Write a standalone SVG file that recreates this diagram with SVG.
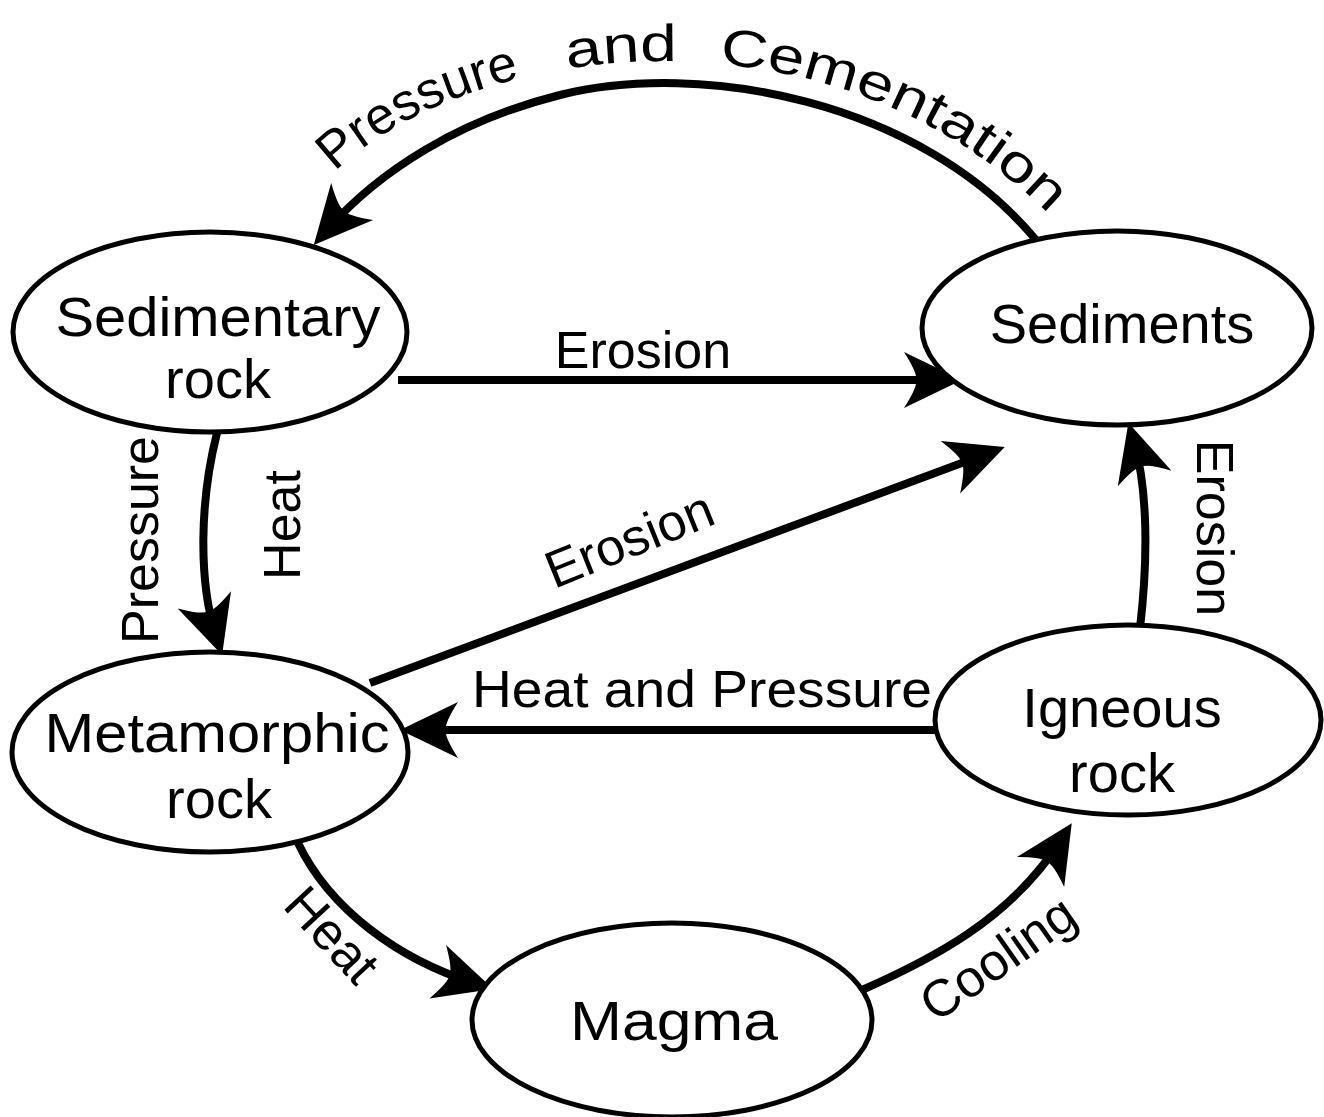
<svg xmlns="http://www.w3.org/2000/svg" width="1324" height="1117" viewBox="0 0 1324 1117">
<style>
.node ellipse{fill:#fff;stroke:#000;stroke-width:5}
.nt{font-family:"Liberation Sans",Arial,sans-serif;font-size:56px;fill:#000;text-anchor:middle}
.lb{font-family:"Liberation Sans",Arial,sans-serif;font-size:52px;fill:#000;text-anchor:middle}
.edge{fill:none;stroke:#000;stroke-width:8}
</style>
<defs>
<marker id="ah" markerUnits="userSpaceOnUse" markerWidth="120" markerHeight="120" refX="0" refY="0" orient="auto" overflow="visible">
<path d="M20,0 L-38,-28 Q-24,-6 -26,0 Q-24,6 -38,28 Z" fill="#000"/>
</marker>
<path id="arcText" d="M335,172 C470,40 840,-10 1062,228"/>
</defs>
<rect width="1324" height="1117" fill="#fff"/>
<g id="connectors">
<path class="edge" d="M1036,240 C920,100 700,60 560,95 C460,120 380,170 327,230" marker-end="url(#ah)"/>
<path class="edge" d="M398,380 L942,380" marker-end="url(#ah)"/>
<path class="edge" d="M217,433 C200,500 198,580 216,636" marker-end="url(#ah)"/>
<path class="edge" d="M370,683 L986,454" marker-end="url(#ah)"/>
<path class="edge" d="M965,730 L420,730" marker-end="url(#ah)"/>
<path class="edge" d="M1140,628 C1148,560 1148,490 1134,442" marker-end="url(#ah)"/>
<path class="edge" d="M298,843 C330,910 400,960 474,983" marker-end="url(#ah)"/>
<path class="edge" d="M862,990 C930,960 1010,920 1061,840" marker-end="url(#ah)"/>
</g>
<g id="edge-labels">
<text class="lb" style="text-anchor:start"><textPath href="#arcText" startOffset="0" textLength="210" lengthAdjust="spacingAndGlyphs">Pressure</textPath></text>
<text class="lb" style="text-anchor:start"><textPath href="#arcText" startOffset="258" textLength="110" lengthAdjust="spacingAndGlyphs">and</textPath></text>
<text class="lb" style="text-anchor:start"><textPath href="#arcText" startOffset="410" textLength="370" lengthAdjust="spacingAndGlyphs">Cementation</textPath></text>
<text class="lb" x="643" y="368">Erosion</text>
<text class="lb" x="702" y="707" textLength="460" lengthAdjust="spacingAndGlyphs">Heat and Pressure</text>
<text class="lb" transform="translate(636,556) rotate(-22)">Erosion</text>
<text class="lb" transform="translate(158,540) rotate(-90)">Pressure</text>
<text class="lb" transform="translate(300,525) rotate(-90)">Heat</text>
<text class="lb" transform="translate(1197,528) rotate(90)">Erosion</text>
<text class="lb" transform="translate(319,947) rotate(47)">Heat</text>
<text class="lb" transform="translate(1008,973) rotate(-35)">Cooling</text>
</g>
<g id="sedimentary-rock" class="node">
<ellipse cx="210" cy="332" rx="197" ry="100"/>
<text class="nt" x="218" y="336" textLength="325" lengthAdjust="spacingAndGlyphs">Sedimentary</text>
<text class="nt" x="218" y="398">rock</text>
</g>
<g id="sediments" class="node">
<ellipse cx="1117" cy="328" rx="195" ry="97"/>
<text class="nt" x="1122" y="343">Sediments</text>
</g>
<g id="metamorphic-rock" class="node">
<ellipse cx="210" cy="752" rx="198" ry="100"/>
<text class="nt" x="217" y="752" textLength="345" lengthAdjust="spacingAndGlyphs">Metamorphic</text>
<text class="nt" x="219" y="818">rock</text>
</g>
<g id="igneous-rock" class="node">
<ellipse cx="1128" cy="720" rx="193" ry="95"/>
<text class="nt" x="1122" y="727">Igneous</text>
<text class="nt" x="1122" y="792">rock</text>
</g>
<g id="magma" class="node">
<ellipse cx="672" cy="1020" rx="200" ry="97"/>
<text class="nt" x="674" y="1040" textLength="208" lengthAdjust="spacingAndGlyphs">Magma</text>
</g>
</svg>
